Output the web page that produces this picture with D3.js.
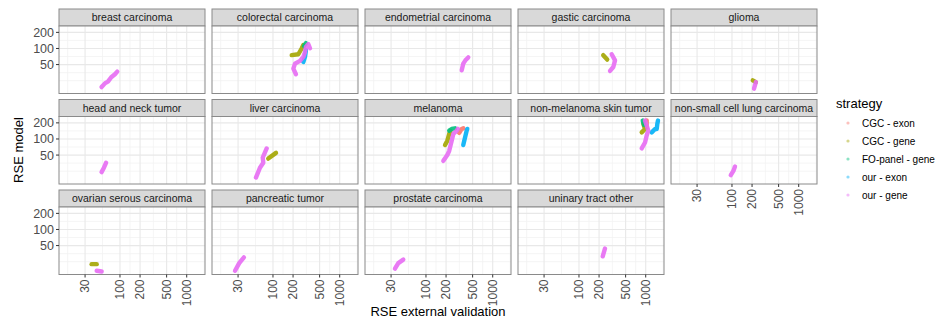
<!DOCTYPE html>
<html>
<head>
<meta charset="utf-8">
<script src="https://cdn.jsdelivr.net/npm/d3@7"></script>
<style>
  body { margin: 0; background: #fff; }
  svg { display: block; }
  text { font-family: "Liberation Sans", Arial, Helvetica, sans-serif; }
</style>
</head>
<body>
<svg id="chart" width="939" height="321"></svg>
<script>
// Facets (cancer types), in facet_wrap order
const cancerTypes = [
  "breast carcinoma", "colorectal carcinoma", "endometrial carcinoma", "gastic carcinoma", "glioma",
  "head and neck tumor", "liver carcinoma", "melanoma", "non-melanoma skin tumor", "non-small cell lung carcinoma",
  "ovarian serous carcinoma", "pancreatic tumor", "prostate carcinoma", "uninary tract other"
];

const strategies = ["CGC - exon", "CGC - gene", "FO-panel - gene", "our - exon", "our - gene"];
const strategyColors = ["#F8766D", "#A3A500", "#00BF7D", "#00B0F6", "#E76BF3"];

const xTicks = [30, 100, 200, 500, 1000];
const yTicks = [50, 100, 200];

// [cancer type, RSE external validation, RSE model]
const cgcExon = [
  ["melanoma", 315, 130], ["melanoma", 343, 154], ["melanoma", 362, 158],
  ["non-melanoma skin tumor", 1035, 221], ["non-melanoma skin tumor", 1035, 166]
];

const cgcGene = [
  ["colorectal carcinoma", 191, 75], ["colorectal carcinoma", 240, 78], ["colorectal carcinoma", 269, 100], ["colorectal carcinoma", 285, 116],
  ["gastic carcinoma", 231, 75], ["gastic carcinoma", 265, 62],
  ["glioma", 205, 25.3], ["glioma", 228, 23.5],
  ["liver carcinoma", 85, 43], ["liver carcinoma", 111, 55],
  ["melanoma", 193, 77], ["melanoma", 209, 93], ["melanoma", 223, 124], ["melanoma", 234, 143],
  ["non-melanoma skin tumor", 871, 133], ["non-melanoma skin tumor", 977, 154], ["non-melanoma skin tumor", 921, 192],
  ["ovarian serous carcinoma", 37.6, 22.5], ["ovarian serous carcinoma", 44.8, 22.5]
];

const foPanelGene = [
  ["colorectal carcinoma", 292, 111], ["colorectal carcinoma", 312, 126],
  ["melanoma", 223, 143], ["melanoma", 243, 154], ["melanoma", 272, 158],
  ["non-melanoma skin tumor", 902, 221], ["non-melanoma skin tumor", 944, 184]
];

const ourExon = [
  ["colorectal carcinoma", 285, 56], ["colorectal carcinoma", 302, 69.5], ["colorectal carcinoma", 312, 93],
  ["melanoma", 362, 77], ["melanoma", 385, 107], ["melanoma", 407, 143], ["melanoma", 416, 154],
  ["non-melanoma skin tumor", 1230, 133], ["non-melanoma skin tumor", 1380, 154], ["non-melanoma skin tumor", 1462, 154],
  ["non-melanoma skin tumor", 1494, 192], ["non-melanoma skin tumor", 1529, 221]
];

const ourGene = [
  ["breast carcinoma", 53, 19], ["breast carcinoma", 60, 22.5], ["breast carcinoma", 66, 24], ["breast carcinoma", 74, 29],
  ["breast carcinoma", 84, 33], ["breast carcinoma", 91, 37],
  ["colorectal carcinoma", 221, 33], ["colorectal carcinoma", 202, 42], ["colorectal carcinoma", 214, 52],
  ["colorectal carcinoma", 254, 58.5], ["colorectal carcinoma", 285, 69.5], ["colorectal carcinoma", 302, 86],
  ["colorectal carcinoma", 312, 107], ["colorectal carcinoma", 338, 121], ["colorectal carcinoma", 359, 101],
  ["endometrial carcinoma", 343, 39], ["endometrial carcinoma", 362, 52], ["endometrial carcinoma", 390, 60], ["endometrial carcinoma", 430, 68],
  ["gastic carcinoma", 309, 78], ["gastic carcinoma", 347, 60], ["gastic carcinoma", 327, 45], ["gastic carcinoma", 292, 38],
  ["glioma", 228, 23.5], ["glioma", 214, 17.7],
  ["head and neck tumor", 53, 24], ["head and neck tumor", 57.5, 29], ["head and neck tumor", 62, 36],
  ["liver carcinoma", 55.6, 19], ["liver carcinoma", 63.8, 29], ["liver carcinoma", 71.6, 36], ["liver carcinoma", 70.2, 45],
  ["liver carcinoma", 75.9, 56], ["liver carcinoma", 80.5, 66.6],
  ["melanoma", 182, 39], ["melanoma", 209, 50], ["melanoma", 223, 60], ["melanoma", 243, 93],
  ["melanoma", 257, 124], ["melanoma", 285, 140], ["melanoma", 300, 154],
  ["non-melanoma skin tumor", 871, 66.6], ["non-melanoma skin tumor", 977, 86], ["non-melanoma skin tumor", 1035, 116],
  ["non-melanoma skin tumor", 1094, 143], ["non-melanoma skin tumor", 1035, 178], ["non-melanoma skin tumor", 977, 221],
  ["non-small cell lung carcinoma", 96, 21], ["non-small cell lung carcinoma", 105, 25.3], ["non-small cell lung carcinoma", 111, 30.5],
  ["ovarian serous carcinoma", 44.8, 16.9], ["ovarian serous carcinoma", 53.2, 16.4],
  ["pancreatic tumor", 27, 16.9], ["pancreatic tumor", 31.2, 23.5], ["pancreatic tumor", 36.7, 30.1],
  ["prostate carcinoma", 34.3, 18.5], ["prostate carcinoma", 38.5, 23.5], ["prostate carcinoma", 45.7, 27.3],
  ["uninary tract other", 227, 31.5], ["uninary tract other", 245, 44]
];

const seriesValues = [cgcExon, cgcGene, foPanelGene, ourExon, ourGene];

// ---- layout ----
const L = { left: 59, top: 9, panelW: 146, panelH: 67.5, stripH: 17, gapX: 7, gapY: 6, cols: 5 };

const svg = d3.select("#chart");

const x = d3.scaleLog().domain([12.2, 1880]).range([0, L.panelW]);
const y = d3.scaleLog().domain([14.4, 263]).range([L.panelH, 0]);

// ggplot-style minor breaks: midpoints between majors, extended by one major step
function minorBreaks(ticks, scale) {
  const b = ticks.map(Math.log10);
  const bd = b[1] - b[0];
  const [lo, hi] = scale.domain().map(Math.log10);
  const ext = b.slice();
  if (lo < ext[0]) ext.unshift(ext[0] - bd);
  if (hi > ext[ext.length - 1]) ext.push(ext[ext.length - 1] + bd);
  const out = [];
  for (let i = 0; i < ext.length - 1; i++) { out.push(ext[i], (ext[i] + ext[i + 1]) / 2); }
  out.push(ext[ext.length - 1]);
  return out.map(v => Math.pow(10, v)).filter(v => {
    const lv = Math.log10(v);
    return lv > lo && lv < hi && !ticks.some(t => Math.abs(Math.log10(t) - lv) < 1e-6);
  });
}
const xMinor = minorBreaks(xTicks, x);
const yMinor = minorBreaks(yTicks, y);

const line = d3.line().x(d => x(d[1])).y(d => y(d[2]));

cancerTypes.forEach((name, i) => {
  const col = i % L.cols, row = Math.floor(i / L.cols);
  const gx = L.left + col * (L.panelW + L.gapX);
  const gy = L.top + row * (L.stripH + L.panelH + L.gapY);
  const g = svg.append("g").attr("transform", `translate(${gx},${gy})`);

  // strip
  g.append("rect").attr("x", 0).attr("y", 0).attr("width", L.panelW).attr("height", L.stripH)
    .attr("fill", "#D9D9D9").attr("stroke", "#8a8a8a").attr("stroke-width", 1);
  g.append("text").attr("x", L.panelW / 2).attr("y", L.stripH / 2 + 3.8)
    .attr("text-anchor", "middle").attr("font-size", 10.5).attr("fill", "#1A1A1A").text(name);

  const p = g.append("g").attr("transform", `translate(0,${L.stripH})`);
  p.append("rect").attr("width", L.panelW).attr("height", L.panelH).attr("fill", "#fff");

  // grid
  p.selectAll(".xmin").data(xMinor).join("line")
    .attr("x1", d => x(d)).attr("x2", d => x(d)).attr("y1", 0).attr("y2", L.panelH)
    .attr("stroke", "#F2F2F2").attr("stroke-width", 0.8);
  p.selectAll(".ymin").data(yMinor).join("line")
    .attr("y1", d => y(d)).attr("y2", d => y(d)).attr("x1", 0).attr("x2", L.panelW)
    .attr("stroke", "#F2F2F2").attr("stroke-width", 0.8);
  p.selectAll(".xmaj").data(xTicks).join("line")
    .attr("x1", d => x(d)).attr("x2", d => x(d)).attr("y1", 0).attr("y2", L.panelH)
    .attr("stroke", "#E8E8E8").attr("stroke-width", 1.1);
  p.selectAll(".ymaj").data(yTicks).join("line")
    .attr("y1", d => y(d)).attr("y2", d => y(d)).attr("x1", 0).attr("x2", L.panelW)
    .attr("stroke", "#E8E8E8").attr("stroke-width", 1.1);

  // trails of points per strategy
  seriesValues.forEach((vals, s) => {
    const pts = vals.filter(d => d[0] === name);
    if (!pts.length) return;
    p.append("path").attr("d", line(pts))
      .attr("fill", "none").attr("stroke", strategyColors[s]).attr("stroke-width", 4.4)
      .attr("stroke-linecap", "round").attr("stroke-linejoin", "round").attr("opacity", 0.9);
  });

  // border
  p.append("rect").attr("width", L.panelW).attr("height", L.panelH)
    .attr("fill", "none").attr("stroke", "#8a8a8a").attr("stroke-width", 1);

  // y axis on the first column
  if (col === 0) {
    const ya = p.append("g");
    ya.selectAll("line").data(yTicks).join("line")
      .attr("x1", -3).attr("x2", 0).attr("y1", d => y(d)).attr("y2", d => y(d))
      .attr("stroke", "#333").attr("stroke-width", 1);
    ya.selectAll("text").data(yTicks).join("text")
      .attr("x", -5).attr("y", d => y(d)).attr("dy", "0.36em")
      .attr("text-anchor", "end").attr("font-size", 12.5).attr("fill", "#4D4D4D")
      .text(d => d);
  }

  // x axis under the last panel of each column
  if (i + L.cols >= cancerTypes.length) {
    const xa = p.append("g").attr("transform", `translate(0,${L.panelH})`);
    xa.selectAll("line").data(xTicks).join("line")
      .attr("x1", d => x(d)).attr("x2", d => x(d)).attr("y1", 0).attr("y2", 3)
      .attr("stroke", "#333").attr("stroke-width", 1);
    xa.selectAll("text").data(xTicks).join("text")
      .attr("transform", d => `translate(${x(d)},5) rotate(-90)`)
      .attr("dy", "0.36em").attr("text-anchor", "end")
      .attr("font-size", 12).attr("fill", "#4D4D4D").text(d => d);
  }
});

// axis titles
svg.append("text").attr("x", 438).attr("y", 316).attr("text-anchor", "middle")
  .attr("font-size", 13).attr("fill", "#000").text("RSE external validation");
svg.append("text").attr("transform", "translate(22.5,150) rotate(-90)").attr("text-anchor", "middle")
  .attr("font-size", 13).attr("fill", "#000").text("RSE model");

// legend
const lg = svg.append("g").attr("transform", "translate(836,0)");
lg.append("text").attr("x", 0).attr("y", 108).attr("font-size", 13).attr("fill", "#000").text("strategy");
strategies.forEach((s, k) => {
  const cy = 123 + k * 18;
  lg.append("circle").attr("cx", 12).attr("cy", cy).attr("r", 1.6)
    .attr("fill", strategyColors[k]).attr("opacity", 0.45);
  lg.append("text").attr("x", 26).attr("y", cy).attr("dy", "0.36em")
    .attr("font-size", 10).attr("fill", "#000").text(s);
});
</script>
</body>
</html>
